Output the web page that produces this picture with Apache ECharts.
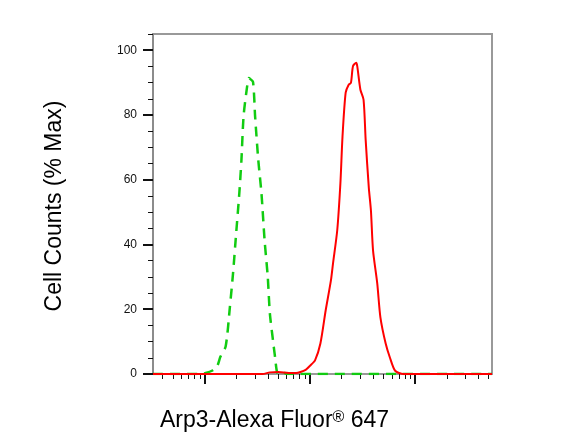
<!DOCTYPE html>
<html>
<head>
<meta charset="utf-8">
<script src="https://cdn.jsdelivr.net/npm/echarts@6/dist/echarts.min.js"></script>
<style>
  html, body { margin: 0; padding: 0; background: #fff; }
  #chart { width: 577px; height: 447px; }
</style>
</head>
<body>
<div id="chart"></div>
<script>
// x values are log10 of fluorescence intensity
const xMin = 2.51;
const xMax = 5.73;
const majorDecades = [3, 4, 5];
const minorMultipliers = [2, 3, 4, 5, 6, 7, 8, 9];

const yMajorTicks = [0, 20, 40, 60, 80, 100];
const yMinorTicks = [0, 5, 10, 15, 20, 25, 30, 35, 40, 45, 50, 55, 60, 65, 70, 75, 80, 85, 90, 95, 100, 105];

// Isotype control (green dashed)
const controlLogX = [2.51, 2.96, 3.01, 3.07, 3.12, 3.15, 3.20, 3.24, 3.27, 3.30, 3.33, 3.35, 3.37, 3.40, 3.42, 3.43, 3.46, 3.48, 3.51, 3.54, 3.57, 3.60, 3.62, 3.65, 3.67, 3.69, 3.72, 3.75, 3.78, 5.73];
const controlPct  = [0,    0,    0.3,  1,    2.5,  5.3,  8.5,  20.6, 31,   43.5, 55.9, 66.1, 79.5, 87.8, 91.4, 91.2, 90.2, 79.5, 66.1, 55.9, 41.3, 30,   18.7, 10.3, 5.1,  0.4,  0,    0.5,  0,    0];

// Arp3 stained (red solid)
const arp3LogX = [2.51, 3.55, 3.62, 3.70, 3.80, 3.87, 3.91, 3.96, 4.00, 4.05, 4.10, 4.15, 4.20, 4.22, 4.26, 4.29, 4.31, 4.34, 4.37, 4.39, 4.41, 4.44, 4.45, 4.48, 4.51, 4.53, 4.56, 4.58, 4.60, 4.64, 4.67, 4.72, 4.76, 4.81, 4.89, 5.73];
const arp3Pct  = [0,    0,    0.5,  0.6,  0.3,  0.3,  0.6,  1.3,  2.5,  4.3,  9.4,  19.6, 28.9, 34.2, 44.4, 58.9, 73.3, 86.9, 89.4, 89.9, 95.1, 96.1, 95.1, 87.8, 84.7, 72.3, 57.5, 50.5, 38.2, 28,   17.5, 9.4,  5.1,  1,    0,    0];

const majorTicks = majorDecades.filter(d => d >= xMin && d <= xMax);
const minorTicks = [];
for (let d = 2; d <= 5; d++) {
  minorMultipliers.forEach(m => {
    const v = d + Math.log10(m);
    if (v >= xMin && v <= xMax) minorTicks.push(v);
  });
}

const zip = (xs, ys) => xs.map((x, i) => [x, ys[i]]);
const font = 'Liberation Sans, Arial, sans-serif';

const chart = echarts.init(document.getElementById('chart'));
chart.setOption({
  animation: false,
  backgroundColor: '#fff',
  grid: {
    left: 153, right: 85, top: 34, bottom: 73,
    show: true, borderColor: '#999', borderWidth: 2, backgroundColor: 'transparent'
  },
  xAxis: [
    {
      type: 'value', min: xMin, max: xMax,
      axisLine: { show: true, lineStyle: { color: '#999', width: 2 } },
      axisTick: { show: true, customValues: majorTicks, length: 10, lineStyle: { color: '#111', width: 2 } },
      axisLabel: { show: false, customValues: majorTicks },
      splitLine: { show: false }
    },
    {
      type: 'value', min: xMin, max: xMax, position: 'bottom',
      axisLine: { show: false },
      axisTick: { show: true, customValues: minorTicks, length: 5, lineStyle: { color: '#111', width: 1 } },
      axisLabel: { show: false, customValues: minorTicks },
      splitLine: { show: false }
    }
  ],
  yAxis: [
    {
      type: 'value', min: 0, max: 105,
      axisLine: { show: true, lineStyle: { color: '#888', width: 1.5 } },
      axisTick: { show: true, customValues: yMajorTicks, length: 10, lineStyle: { color: '#111', width: 2 } },
      axisLabel: { show: true, customValues: yMajorTicks, margin: 16, fontSize: 12, color: '#111', fontFamily: font },
      splitLine: { show: false }
    },
    {
      type: 'value', min: 0, max: 105, position: 'left',
      axisLine: { show: false },
      axisTick: { show: true, customValues: yMinorTicks, length: 5, lineStyle: { color: '#111', width: 1 } },
      axisLabel: { show: false, customValues: yMinorTicks },
      splitLine: { show: false }
    }
  ],
  series: [
    {
      type: 'line', name: 'Control', data: zip(controlLogX, controlPct),
      showSymbol: false, smooth: 0.25,
      lineStyle: { color: '#11cc11', width: 2.5, type: [10, 7] },
      z: 2
    },
    {
      type: 'line', name: 'Arp3', data: zip(arp3LogX, arp3Pct),
      showSymbol: false, smooth: 0.25,
      lineStyle: { color: '#ff0000', width: 2 },
      z: 3
    }
  ],
  graphic: [
    {
      type: 'text', x: 55, y: 206, rotation: Math.PI / 2,
      style: { text: 'Cell Counts (% Max)', font: '23px ' + font, fill: '#000', textAlign: 'center', textVerticalAlign: 'middle' }
    },
    {
      type: 'text', x: 160, y: 421,
      style: {
        text: 'Arp3-Alexa Fluor{sup|®} 647',
        font: '23px ' + font, fill: '#000', textAlign: 'left', textVerticalAlign: 'middle',
        rich: {
          sup: { fontSize: 16, fontFamily: font, fill: '#000', verticalAlign: 'top', lineHeight: 23 }
        }
      }
    }
  ]
});
</script>
</body>
</html>
